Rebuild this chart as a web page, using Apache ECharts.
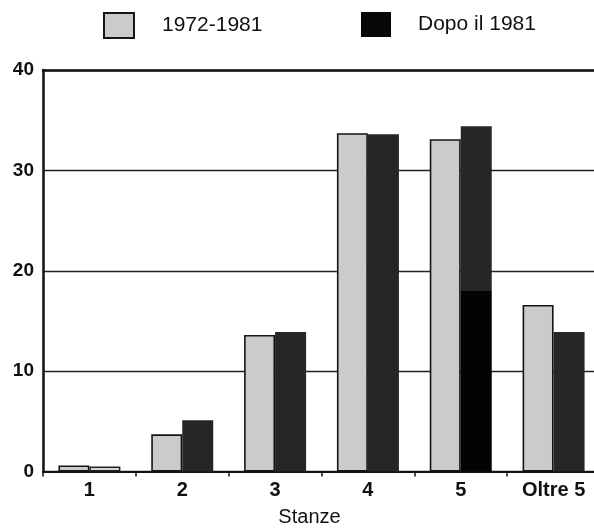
<!DOCTYPE html>
<html>
<head>
<meta charset="utf-8">
<script src="https://cdn.jsdelivr.net/npm/echarts@6/dist/echarts.min.js"></script>
<style>
html,body{margin:0;padding:0;background:#fff;overflow:hidden;}
#chart{width:594px;height:528px;}
</style>
</head>
<body>
<div id="chart"></div>
<script>
var categories = ['1', '2', '3', '4', '5', 'Oltre 5'];
var series1972 = [0.6, 3.7, 13.6, 33.7, 33.1, 16.6];
var seriesDopo = [0.5, 5.1, 13.9, 33.6, 34.4, 13.9];
var yTicks = [0, 10, 20, 30, 40];
var seriesNames = ['1972-1981', 'Dopo il 1981'];

var FONT = 'Liberation Sans, Arial, Helvetica, sans-serif';
var chart = echarts.init(document.getElementById('chart'));

var darkData = seriesDopo.map(function (v, i) {
  var item = { value: v };
  if (i === 0) {
    item.itemStyle = { color: '#d6d6d6', borderColor: '#222', borderWidth: 1.5 };
  }
  if (i === 4) {
    var f = (v - 18) / v;
    item.itemStyle = {
      color: new echarts.graphic.LinearGradient(0, 0, 0, 1, [
        { offset: 0, color: '#262626' },
        { offset: f, color: '#262626' },
        { offset: f, color: '#030303' },
        { offset: 1, color: '#030303' }
      ])
    };
  }
  return item;
});

var option = {
  animation: false,
  backgroundColor: '#fff',
  legend: [
    {
      data: [{ name: seriesNames[0], icon: 'rect' }],
      left: 103, top: 12, padding: 0,
      itemWidth: 30, itemHeight: 25,
      textStyle: { fontFamily: FONT, fontSize: 21, color: '#111', padding: [0, 0, 0, 23] }
    },
    {
      data: [{ name: seriesNames[1], icon: 'rect', itemStyle: { color: '#080808' } }],
      left: 361, top: 12, padding: 0,
      itemWidth: 30, itemHeight: 25,
      textStyle: { fontFamily: FONT, fontSize: 21, color: '#111', padding: [0, 0, 0, 22] }
    }
  ],
  grid: { left: 43, top: 70, width: 557, height: 401.5, containLabel: false, outerBoundsMode: 'none' },
  xAxis: [
    {
      type: 'category',
      data: categories,
      axisLine: { show: true, lineStyle: { color: '#111', width: 2 } },
      axisTick: { show: true, length: 5, lineStyle: { color: '#111', width: 1.5 } },
      axisLabel: { fontFamily: FONT, fontSize: 20, fontWeight: 'bold', color: '#111', margin: 9 },
      name: 'Stanze',
      nameLocation: 'middle',
      nameGap: 36,
      nameTextStyle: { fontFamily: FONT, fontSize: 20, color: '#111', padding: [0, 24, 0, 0] }
    },
    {
      type: 'category',
      position: 'top',
      data: categories,
      axisLine: { show: true, lineStyle: { color: '#111', width: 2.5 } },
      axisTick: { show: false },
      axisLabel: { show: false }
    }
  ],
  yAxis: {
    type: 'value',
    min: yTicks[0],
    max: yTicks[yTicks.length - 1],
    interval: 10,
    axisLine: { show: true, lineStyle: { color: '#111', width: 2.5 } },
    axisTick: { show: false },
    axisLabel: { fontFamily: FONT, fontSize: 19, fontWeight: 'bold', color: '#111', margin: 9 },
    splitLine: { show: true, lineStyle: { color: '#222', width: 1.3 } }
  },
  series: [
    {
      name: seriesNames[0],
      type: 'bar',
      xAxisIndex: 0,
      barWidth: 31,
      barGap: '0%',
      data: series1972,
      itemStyle: { color: '#cbcbcb', borderColor: '#151515', borderWidth: 1.6 }
    },
    {
      name: seriesNames[1],
      type: 'bar',
      xAxisIndex: 0,
      barWidth: 31,
      barGap: '0%',
      data: darkData,
      itemStyle: { color: '#262626' }
    }
  ]
};
chart.setOption(option);
</script>
</body>
</html>
